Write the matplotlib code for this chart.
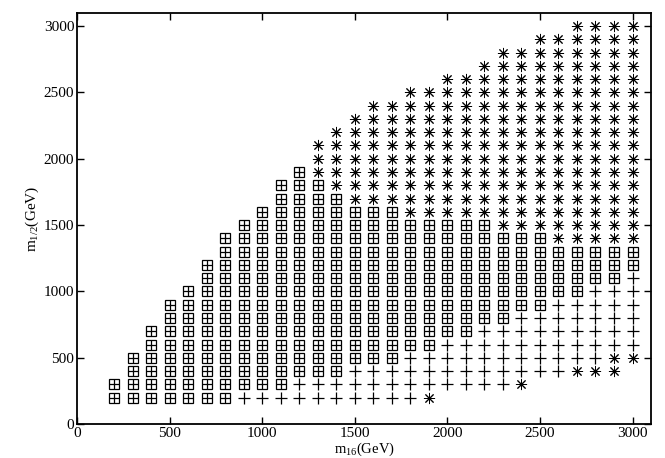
import numpy as np
import matplotlib
matplotlib.use("Agg")
import matplotlib.pyplot as plt

# grid columns in m16 (GeV); each marker type covers a range of m1/2 in steps of 100
m16 = [200, 300, 400, 500, 600, 700, 800, 900, 1000, 1100, 1200, 1300, 1400, 1500,
       1600, 1700, 1800, 1900, 2000, 2100, 2200, 2300, 2400, 2500, 2600, 2700, 2800,
       2900, 3000]

# boxed plus points (0 = none)
box_lo = [200, 200, 200, 200, 200, 200, 200, 300, 300, 300, 400, 400, 400, 500,
          500, 500, 600, 600, 700, 700, 800, 800, 900, 900, 1000, 1000, 1100, 1100, 1200]
box_hi = [300, 500, 700, 900, 1000, 1200, 1400, 1500, 1600, 1800, 1900, 1800, 1700, 1600,
          1600, 1600, 1500, 1500, 1500, 1500, 1500, 1400, 1400, 1400, 1300, 1300, 1300, 1300, 1300]

# plain plus points
plus_lo = [0, 0, 0, 0, 0, 0, 0, 200, 200, 200, 200, 200, 200, 200,
           200, 200, 200, 300, 300, 300, 300, 300, 400, 400, 400, 500, 500, 600, 600]
plus_hi = [0, 0, 0, 0, 0, 0, 0, 200, 200, 200, 300, 300, 300, 400,
           400, 400, 500, 500, 600, 600, 700, 700, 800, 800, 900, 900, 1000, 1000, 1100]

# asterisks, upper region
star_lo = [0, 0, 0, 0, 0, 0, 0, 0, 0, 0, 0, 1900, 1800, 1700,
           1700, 1700, 1600, 1600, 1600, 1600, 1600, 1500, 1500, 1500, 1400, 1400, 1400, 1400, 1400]
star_hi = [0, 0, 0, 0, 0, 0, 0, 0, 0, 0, 0, 2100, 2200, 2300,
           2400, 2400, 2500, 2500, 2600, 2600, 2700, 2800, 2800, 2900, 2900, 3000, 3000, 3000, 3000]

# asterisks, lower region
low_lo = [0, 0, 0, 0, 0, 0, 0, 0, 0, 0, 0, 0, 0, 0,
          0, 0, 0, 200, 0, 0, 0, 0, 300, 0, 0, 400, 400, 400, 500]
low_hi = [0, 0, 0, 0, 0, 0, 0, 0, 0, 0, 0, 0, 0, 0,
          0, 0, 0, 200, 0, 0, 0, 0, 300, 0, 0, 400, 400, 500, 500]


def expand(lo, hi):
    xs, ys = [], []
    for x, a, b in zip(m16, lo, hi):
        if a == 0:
            continue
        for y in range(a, b + 1, 100):
            xs.append(x)
            ys.append(y)
    return xs, ys


plt.rcParams['font.family'] = ['Liberation Serif', 'DejaVu Serif']
plt.rcParams['mathtext.fontset'] = 'custom'
plt.rcParams['mathtext.rm'] = 'Liberation Serif'
plt.rcParams['mathtext.it'] = 'Liberation Serif'

fig = plt.figure(figsize=(6.65, 4.58), dpi=100)
ax = fig.add_axes([0.116, 0.074, 0.863, 0.898])

lw = 0.9
bx, by = expand(box_lo, box_hi)
ax.plot(bx, by, ls='none', marker='s', ms=7, mfc='none', mec='black', mew=lw)
ax.plot(bx, by, ls='none', marker='+', ms=7, mec='black', mew=lw)

px, py = expand(plus_lo, plus_hi)
ax.plot(px, py, ls='none', marker='+', ms=8, mec='black', mew=lw)

sx, sy = expand(star_lo, star_hi)
ax.plot(sx, sy, ls='none', marker=(8, 2, 0), ms=8, mec='black', mew=0.7)
lx, ly = expand(low_lo, low_hi)
ax.plot(lx, ly, ls='none', marker=(8, 2, 0), ms=8, mec='black', mew=0.7)

ax.set_xlim(0, 3100)
ax.set_ylim(0, 3100)
ax.set_xticks([0, 500, 1000, 1500, 2000, 2500, 3000])
ax.set_yticks([0, 500, 1000, 1500, 2000, 2500, 3000])
ax.tick_params(direction='in', top=True, right=True, length=5, width=1,
               labelsize=11, pad=2)
for s in ax.spines.values():
    s.set_linewidth(1.3)

ax.set_xlabel(r'm$_{16}$(GeV)', fontsize=10.5, labelpad=0.5)
ax.set_ylabel(r'm$_{1/2}$(GeV)', fontsize=11, labelpad=2)

fig.savefig('out.png', dpi=100)
